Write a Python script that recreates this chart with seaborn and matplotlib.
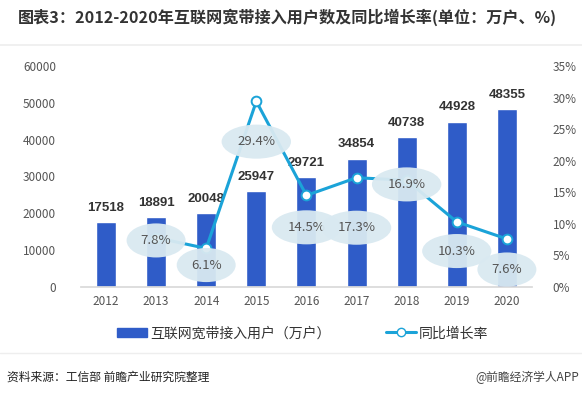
import numpy as np
import pandas as pd
import seaborn as sns
import matplotlib.pyplot as plt
from matplotlib.lines import Line2D
from matplotlib.patches import Patch

years = ["2012", "2013", "2014", "2015", "2016", "2017", "2018", "2019", "2020"]
users = [17518, 18891, 20048, 25947, 29721, 34854, 40738, 44928, 48355]
growth = [None, 7.8, 6.1, 29.4, 14.5, 17.3, 16.9, 10.3, 7.6]
# vertical offset (points) of each growth label relative to its marker
label_dy = [0, -2, -12, -29, -23, -36, -3, -21, -22]

sns.set_theme(style="white")
plt.rcParams['font.family'] = ['Noto Sans CJK SC', 'DejaVu Sans']

bar_color = "#2F5CC8"
line_color = "#1BA3D8"
tick_color = "#555555"

df = pd.DataFrame({"year": years, "users": users, "growth": growth})

fig = plt.figure(figsize=(5.82, 3.93), dpi=100)
ax = fig.add_axes([0.139, 0.270, 0.775, 0.562])

sns.barplot(data=df, x="year", y="users", color=bar_color, width=0.4,
            saturation=1, ax=ax)
ax.set_ylim(0, 60000)
ax.set_yticks(range(0, 60001, 10000))
ax.set_xlim(-0.5, 8.5)
ax.set_xlabel("")
ax.set_ylabel("")
for s in ["top", "right", "left"]:
    ax.spines[s].set_visible(False)
ax.spines["bottom"].set_color("#d9d9d9")
ax.tick_params(axis="both", length=0, labelsize=8.5, colors=tick_color)
ax.tick_params(axis="y", pad=18)
ax.tick_params(axis="x", pad=6)

for i, v in enumerate(users):
    ax.annotate(str(v), (i, v), xytext=(0, 6), textcoords="offset points",
                ha="center", va="bottom", fontsize=9.5, fontweight="bold",
                color="#333333", family=["Liberation Sans", "DejaVu Sans"])

ax2 = ax.twinx()
gdf = df.dropna()
sns.lineplot(x=gdf.index, y=gdf["growth"], color=line_color, linewidth=2.2,
             marker="o", markersize=7, markerfacecolor="white",
             markeredgecolor=line_color, markeredgewidth=1.4, ax=ax2)
ax2.set_ylim(0, 35)
ax2.set_yticks(range(0, 36, 5))
ax2.set_yticklabels([f"{t}%" for t in range(0, 36, 5)])
ax2.set_ylabel("")
for s in ["top", "right", "left", "bottom"]:
    ax2.spines[s].set_visible(False)
ax2.tick_params(axis="y", length=0, labelsize=8.5, colors=tick_color, pad=15)

for i, v in enumerate(growth):
    if v is None:
        continue
    ax2.annotate(f"{v}%", (i, v), xytext=(0, label_dy[i]),
                 textcoords="offset points", ha="center", va="center",
                 fontsize=9.5, color="#555555",
                 bbox=dict(boxstyle="ellipse,pad=0.42", fc="#D9E9F1",
                           ec="none", alpha=0.95))

fig.text(0.031, 0.955, "图表3：2012-2020年互联网宽带接入用户数及同比增长率(单位：万户、%)",
         fontsize=11.6, fontweight="bold", color="#333333", va="center")
fig.add_artist(Line2D([0.0, 1.0], [0.885, 0.885], color="#eeeeee", lw=1.2))
fig.add_artist(Line2D([0.0, 1.0], [0.103, 0.103], color="#eeeeee", lw=1.0))

handles = [Patch(color=bar_color),
           Line2D([0], [0], color=line_color, lw=2.2, marker="o", markersize=6,
                  markerfacecolor="white", markeredgecolor=line_color)]
fig.legend(handles, ["互联网宽带接入用户（万户）", "同比增长率"], loc="center",
           bbox_to_anchor=(0.52, 0.152), ncol=2, frameon=False, fontsize=10,
           handlelength=2.2, handletextpad=0.2, columnspacing=4,
           labelcolor="#333333")

fig.text(0.012, 0.04, "资料来源：工信部 前瞻产业研究院整理", fontsize=8.5,
         color="#222222", va="center")
fig.text(0.995, 0.04, "@前瞻经济学人APP", fontsize=8.5, color="#444444",
         va="center", ha="right")

fig.savefig("out.png", dpi=100)
